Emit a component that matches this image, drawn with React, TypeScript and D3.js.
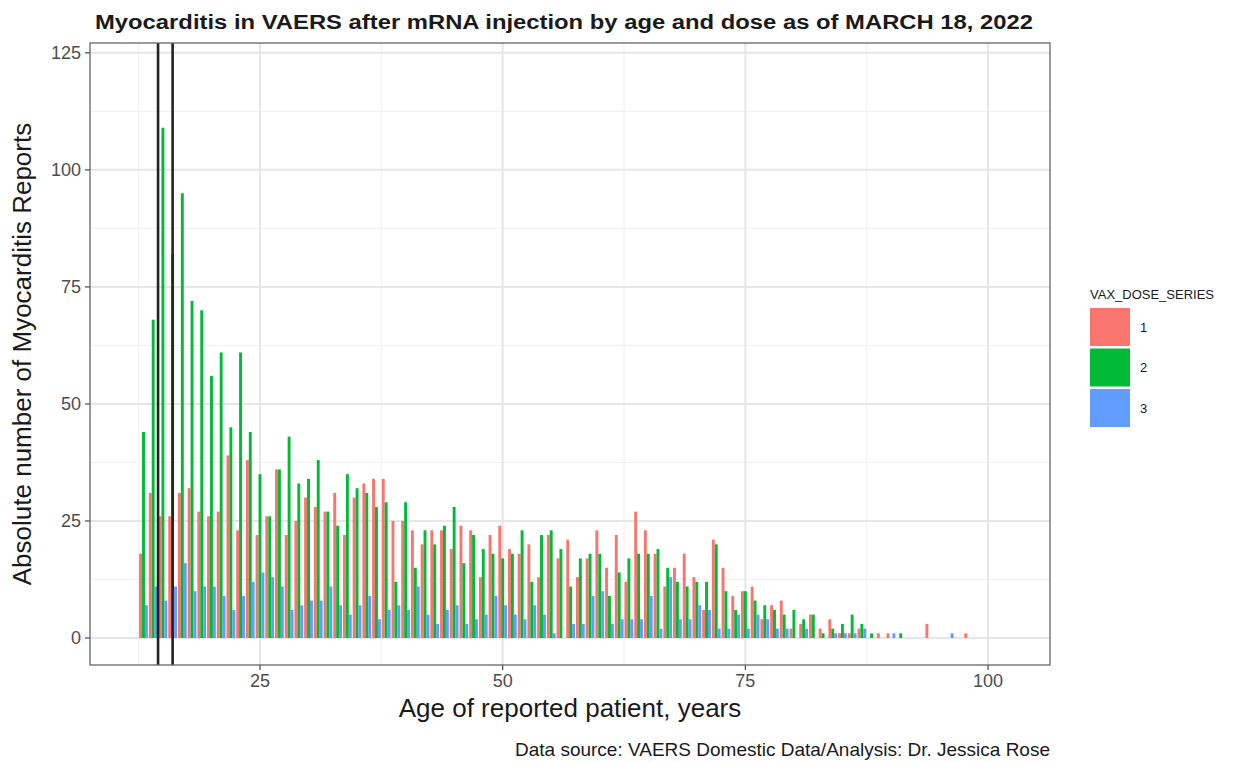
import React from 'react';
import * as d3 from 'd3';

// ages shown on the x axis (one group of three bars per age)
const ages = d3.range(13, 99);

// counts per age (ages 13..98)
const dose1 = [
  18, 31, 26, 26, 31, 32, 27, 26, 27, 39, 23, 38, 22, 26, 36, 22, 25, 30, 28, 27,
  31, 22, 30, 33, 34, 34, 25, 25, 23, 20, 23, 23, 19, 24, 23, 13, 22, 24, 19, 18,
  20, 13, 22, 17, 21, 13, 17, 23, 15, 22, 12, 27, 23, 18, 11, 15, 18, 13, 6, 21,
  15, 9, 10, 11, 4, 7, 8, 2, 3, 5, 2, 4, 1, 1, 2, 0, 1, 1, 0, 0,
  0, 3, 0, 0, 0, 1,
];
const dose2 = [
  44, 68, 109, 82, 95, 72, 70, 56, 61, 45, 61, 44, 35, 26, 36, 43, 33, 34, 38, 27,
  24, 35, 32, 31, 28, 29, 12, 29, 15, 23, 20, 24, 28, 16, 22, 19, 18, 17, 18, 23,
  12, 22, 23, 19, 11, 17, 18, 18, 9, 14, 17, 18, 18, 19, 15, 12, 11, 12, 12, 20,
  10, 6, 10, 8, 7, 6, 5, 6, 4, 5, 1, 2, 3, 5, 3, 1, 0, 0, 1, 0,
  0, 0, 0, 0, 0, 0,
];
const dose3 = [
  7, 11, 8, 11, 16, 10, 11, 11, 9, 6, 9, 12, 14, 13, 11, 6, 7, 8, 8, 11,
  7, 5, 7, 9, 4, 6, 7, 6, 11, 5, 3, 6, 7, 3, 4, 5, 9, 7, 5, 4,
  7, 5, 1, 0, 3, 3, 9, 10, 3, 4, 4, 4, 9, 2, 13, 4, 4, 7, 6, 2,
  2, 5, 2, 5, 4, 2, 2, 0, 2, 0, 0, 1, 1, 1, 2, 0, 0, 1, 0, 0,
  0, 0, 0, 1, 0, 0,
];

const seriesNames = ['1', '2', '3'];
const seriesColors = ['#F8766D', '#00BA38', '#619CFF'];
const seriesValues = [dose1, dose2, dose3];

const xTicks = [25, 50, 75, 100];
const xMinor = [12.5, 37.5, 62.5, 87.5];
const yTicks = [0, 25, 50, 75, 100, 125];
const yMinor = [12.5, 37.5, 62.5, 87.5, 112.5];
const markerAges = [14.5, 16];

const title = 'Myocarditis in VAERS after mRNA injection by age and dose as of MARCH 18, 2022';
const xTitle = 'Age of reported patient, years';
const yTitle = 'Absolute number of Myocarditis Reports';
const caption = 'Data source: VAERS Domestic Data/Analysis: Dr. Jessica Rose';
const legendTitle = 'VAX_DOSE_SERIES';

const W = 1238;
const H = 762;
const panel = { left: 90, right: 1050, top: 43, bottom: 665 };
const font = '"Liberation Sans", Arial, Helvetica, sans-serif';

export default function App() {
  const x = d3.scaleLinear().domain([7.49, 106.38]).range([panel.left, panel.right]);
  const y = d3.scaleLinear().domain([-5.77, 127.1]).range([panel.bottom, panel.top]);

  const dodge = 0.9 / seriesNames.length;
  const bars: { x: number; y: number; w: number; h: number; c: string; k: string }[] = [];
  ages.forEach((age, i) => {
    seriesValues.forEach((vals, s) => {
      const v = vals[i];
      if (!v) return;
      const x0 = x(age - 0.45 + s * dodge);
      const x1 = x(age - 0.45 + (s + 1) * dodge);
      bars.push({ x: x0, y: y(v), w: x1 - x0, h: y(0) - y(v), c: seriesColors[s], k: `${age}-${s}` });
    });
  });

  const panelW = panel.right - panel.left;
  const panelH = panel.bottom - panel.top;

  return (
    <svg
      width={W}
      height={H}
      style={{ position: 'absolute', left: 0, top: 0, background: '#fff' }}
      fontFamily={font}
    >
      <rect x={0} y={0} width={W} height={H} fill="#fff" />

      {/* grid */}
      {yMinor.map((t) => (
        <line key={'ym' + t} x1={panel.left} x2={panel.right} y1={y(t)} y2={y(t)} stroke="#f1f1f1" strokeWidth={1.2} />
      ))}
      {xMinor.map((t) => (
        <line key={'xm' + t} x1={x(t)} x2={x(t)} y1={panel.top} y2={panel.bottom} stroke="#f1f1f1" strokeWidth={1.2} />
      ))}
      {yTicks.map((t) => (
        <line key={'yg' + t} x1={panel.left} x2={panel.right} y1={y(t)} y2={y(t)} stroke="#e6e6e6" strokeWidth={2} />
      ))}
      {xTicks.map((t) => (
        <line key={'xg' + t} x1={x(t)} x2={x(t)} y1={panel.top} y2={panel.bottom} stroke="#e6e6e6" strokeWidth={2} />
      ))}

      {/* bars */}
      {bars.map((b) => (
        <rect key={b.k} x={b.x} y={b.y} width={b.w} height={b.h} fill={b.c} />
      ))}

      {/* vertical markers */}
      {markerAges.map((a) => (
        <line key={'v' + a} x1={x(a)} x2={x(a)} y1={panel.top} y2={panel.bottom} stroke="#222" strokeWidth={2.6} />
      ))}

      {/* panel border */}
      <rect x={panel.left} y={panel.top} width={panelW} height={panelH} fill="none" stroke="#666" strokeWidth={1.3} />

      {/* y axis */}
      {yTicks.map((t) => (
        <g key={'yt' + t}>
          <line x1={panel.left - 5} x2={panel.left} y1={y(t)} y2={y(t)} stroke="#555" strokeWidth={1.3} />
          <text x={panel.left - 9} y={y(t)} dy="0.35em" textAnchor="end" fontSize={18} fill="#4d4d4d">
            {t}
          </text>
        </g>
      ))}
      {/* x axis */}
      {xTicks.map((t) => (
        <g key={'xt' + t}>
          <line x1={x(t)} x2={x(t)} y1={panel.bottom} y2={panel.bottom + 5} stroke="#555" strokeWidth={1.3} />
          <text x={x(t)} y={panel.bottom + 22} textAnchor="middle" fontSize={18} fill="#4d4d4d">
            {t}
          </text>
        </g>
      ))}

      {/* titles */}
      <text x={564} y={29} textAnchor="middle" fontSize={20} fontWeight="bold" fill="#1a1a1a" textLength={938} lengthAdjust="spacingAndGlyphs">
        {title}
      </text>
      <text x={(panel.left + panel.right) / 2} y={717} textAnchor="middle" fontSize={26} fill="#1a1a1a">
        {xTitle}
      </text>
      <text
        transform={`translate(31,${(panel.top + panel.bottom) / 2}) rotate(-90)`}
        textAnchor="middle"
        fontSize={26}
        fill="#1a1a1a"
      >
        {yTitle}
      </text>
      <text x={panel.right} y={756} textAnchor="end" fontSize={19} fill="#1a1a1a">
        {caption}
      </text>

      {/* legend */}
      <text x={1090} y={299} fontSize={13} fill="#1a1a1a">
        {legendTitle}
      </text>
      {seriesNames.map((n, i) => (
        <g key={'lg' + n} transform={`translate(1090,${308 + i * 40.5})`}>
          <rect x={0} y={0} width={40} height={38} fill={seriesColors[i]} />
          <text x={50} y={19} dy="0.35em" fontSize={13} fill="#1a1a1a">
            {n}
          </text>
        </g>
      ))}
    </svg>
  );
}
